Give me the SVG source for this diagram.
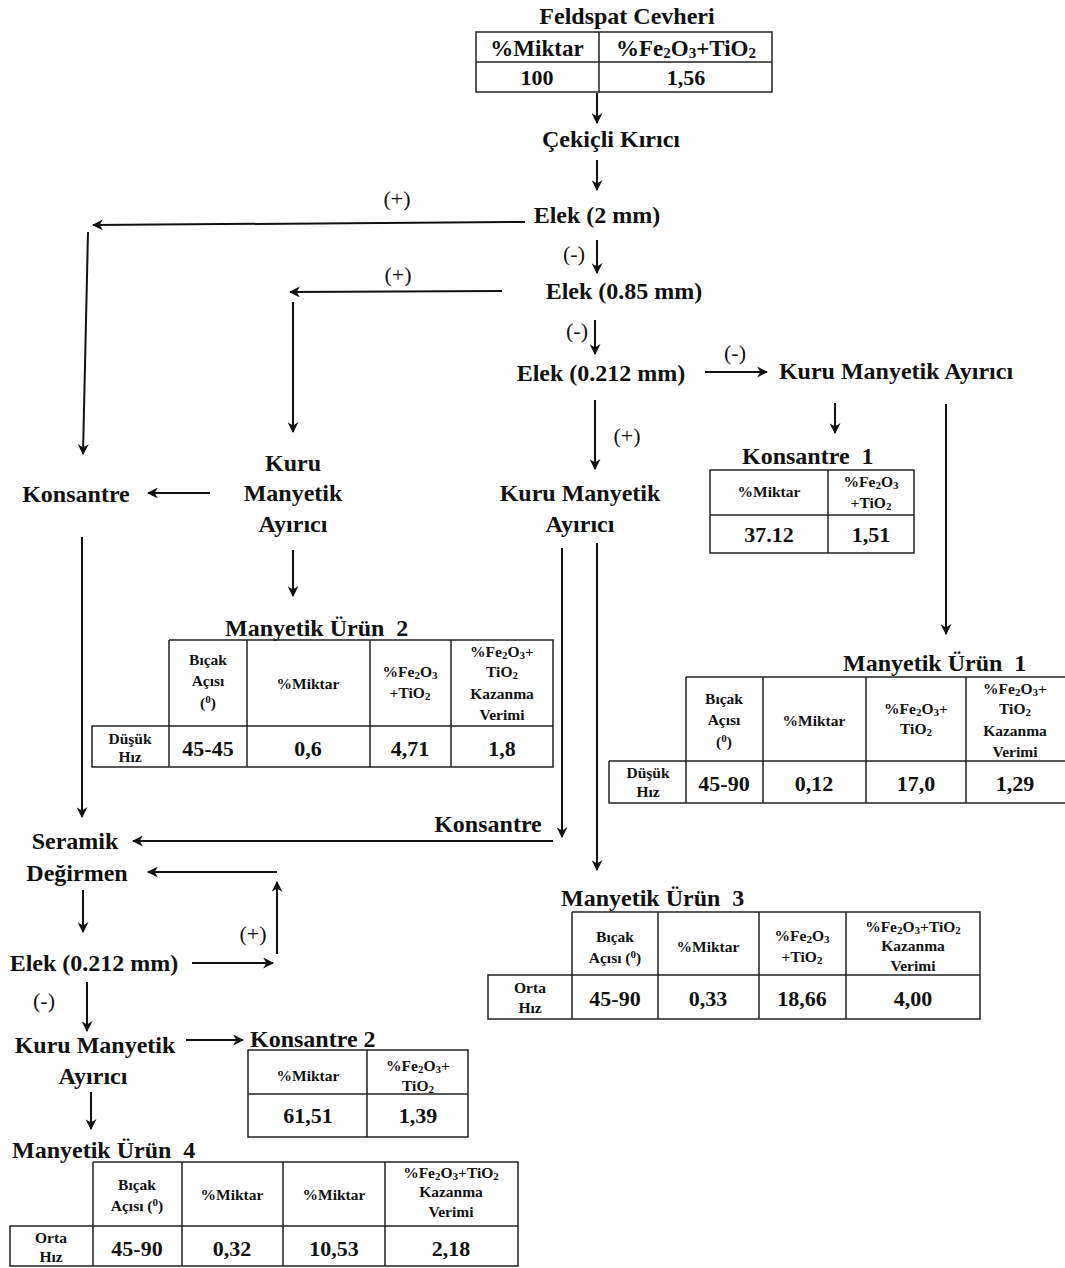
<svg xmlns="http://www.w3.org/2000/svg" width="1065" height="1268" viewBox="0 0 1065 1268">
<defs>
<marker id="ah" viewBox="0 0 10 10" refX="9" refY="5" markerWidth="5.5" markerHeight="5.5" orient="auto" markerUnits="strokeWidth">
<path d="M0,0 L10,5 L0,10 L3,5 Z" fill="#111"/>
</marker>
<style>
text{font-family:"Liberation Serif","Times New Roman",serif;font-weight:bold;fill:#111;text-anchor:middle}
.t{font-size:24px}
.ts{font-size:24px;text-anchor:start;white-space:pre}
.lbl{font-size:22px;font-weight:normal}
.h{font-size:15.5px}
.v{font-size:22px}
.hv{font-size:23px}
.cell{fill:none;stroke:#222;stroke-width:1.5}
.c line{fill:none;stroke:#111;stroke-width:2;marker-end:url(#ah)}
</style>
</defs>
<rect width="1065" height="1268" fill="#fff"/>

<g id="connectors" class="c">
<line x1="597" y1="93" x2="597" y2="123"/>
<line x1="597" y1="160" x2="597" y2="190"/>
<line x1="525" y1="222" x2="93" y2="225"/>
<line x1="88" y1="232" x2="83" y2="454"/>
<line x1="597" y1="240" x2="597" y2="273"/>
<line x1="502" y1="291" x2="290" y2="292"/>
<line x1="293" y1="302" x2="293" y2="432"/>
<line x1="595" y1="320" x2="595" y2="354"/>
<line x1="705" y1="372" x2="767" y2="372"/>
<line x1="835" y1="403" x2="835" y2="433"/>
<line x1="946" y1="404" x2="946" y2="634"/>
<line x1="595" y1="400" x2="595" y2="469"/>
<line x1="210" y1="493" x2="148" y2="493"/>
<line x1="293" y1="550" x2="293" y2="596"/>
<line x1="82" y1="537" x2="82" y2="817"/>
<line x1="562" y1="548" x2="562" y2="837"/>
<line x1="553" y1="841" x2="133" y2="841"/>
<line x1="597" y1="543" x2="597" y2="870"/>
<line x1="277" y1="872" x2="148" y2="872"/>
<line x1="277" y1="954" x2="277" y2="882"/>
<line x1="192" y1="963" x2="273" y2="963"/>
<line x1="83" y1="890" x2="83" y2="932"/>
<line x1="87" y1="982" x2="87" y2="1031"/>
<line x1="186" y1="1040" x2="243" y2="1040"/>
<line x1="91" y1="1092" x2="91" y2="1129"/>
</g>

<g id="labels">
<text class="lbl" x="397" y="206">(+)</text>
<text class="lbl" x="574" y="261">(-)</text>
<text class="lbl" x="398" y="282">(+)</text>
<text class="lbl" x="577" y="338">(-)</text>
<text class="lbl" x="735" y="360">(-)</text>
<text class="lbl" x="627" y="443">(+)</text>
<text class="lbl" x="253" y="941">(+)</text>
<text class="lbl" x="44" y="1008">(-)</text>
</g>

<g id="feldspat">
<text class="t" x="627" y="24">Feldspat Cevheri</text>
<rect class="cell" x="476" y="32" width="296" height="60"/>
<line class="cell" x1="476" y1="62" x2="772" y2="62"/>
<line class="cell" x1="599" y1="32" x2="599" y2="92"/>
<text class="hv" x="537" y="56">%Miktar</text>
<text class="hv" x="686" y="56">%Fe<tspan font-size="15" dy="2">2</tspan><tspan dy="-2">O</tspan><tspan font-size="15" dy="2">3</tspan><tspan dy="-2">+TiO</tspan><tspan font-size="15" dy="2">2</tspan></text>
<text class="v" x="537" y="85">100</text>
<text class="v" x="686" y="85">1,56</text>
</g>

<g id="cekicli"><text class="t" x="611" y="147">Çekiçli Kırıcı</text></g>
<g id="elek2"><text class="t" x="597" y="223">Elek (2 mm)</text></g>
<g id="elek085"><text class="t" x="624" y="299">Elek (0.85 mm)</text></g>
<g id="elek0212a"><text class="t" x="601" y="381">Elek (0.212 mm)</text></g>
<g id="kma-right"><text class="t" x="896" y="379">Kuru Manyetik Ayırıcı</text></g>
<g id="kma-mid"><text class="t" x="293" y="471">Kuru</text><text class="t" x="293" y="501">Manyetik</text><text class="t" x="293" y="532">Ayırıcı</text></g>
<g id="kma-center"><text class="t" x="580" y="501">Kuru Manyetik</text><text class="t" x="580" y="532">Ayırıcı</text></g>
<g id="konsantre-left"><text class="t" x="76" y="502">Konsantre</text></g>
<g id="konsantre-mid"><text class="t" x="488" y="832">Konsantre</text></g>
<g id="seramik"><text class="t" x="75" y="849">Seramik</text><text class="t" x="77" y="881">Değirmen</text></g>
<g id="elek0212b"><text class="t" x="94" y="971">Elek (0.212 mm)</text></g>
<g id="kma-bottom"><text class="t" x="95" y="1053">Kuru Manyetik</text><text class="t" x="93" y="1084">Ayırıcı</text></g>

<g id="konsantre1">
<text class="ts" x="742" y="464" xml:space="preserve">Konsantre  1</text>
<rect class="cell" x="710" y="470" width="204" height="83"/>
<line class="cell" x1="710" y1="515" x2="914" y2="515"/>
<line class="cell" x1="828" y1="470" x2="828" y2="553"/>
<text class="h" x="769" y="497">%Miktar</text>
<text class="h" x="871" y="487">%Fe<tspan font-size="11" dy="2">2</tspan><tspan dy="-2">O</tspan><tspan font-size="11" dy="2">3</tspan></text>
<text class="h" x="871" y="508">+TiO<tspan font-size="11" dy="2">2</tspan></text>
<text class="v" x="769" y="542">37.12</text>
<text class="v" x="871" y="542">1,51</text>
</g>

<g id="manyetik1">
<text class="ts" x="843" y="671" xml:space="preserve">Manyetik Ürün  1</text>
<path class="cell" d="M686,677 H1066 M686,677 V803 M609,761 H1066 M609,761 V803 H1066 M763,677 V803 M866,677 V803 M966,677 V803"/>
<text class="h" x="724" y="704">Bıçak</text>
<text class="h" x="724" y="725">Açısı</text>
<text class="h" x="724" y="747">(<tspan font-size="11" dy="-5">0</tspan><tspan dy="5">)</tspan></text>
<text class="h" x="814" y="726">%Miktar</text>
<text class="h" x="916" y="714">%Fe<tspan font-size="11" dy="2">2</tspan><tspan dy="-2">O</tspan><tspan font-size="11" dy="2">3</tspan><tspan dy="-2">+</tspan></text>
<text class="h" x="916" y="734">TiO<tspan font-size="11" dy="2">2</tspan></text>
<text class="h" x="1015" y="694">%Fe<tspan font-size="11" dy="2">2</tspan><tspan dy="-2">O</tspan><tspan font-size="11" dy="2">3</tspan><tspan dy="-2">+</tspan></text>
<text class="h" x="1015" y="714">TiO<tspan font-size="11" dy="2">2</tspan></text>
<text class="h" x="1015" y="736">Kazanma</text>
<text class="h" x="1015" y="757">Verimi</text>
<text class="h" x="648" y="778">Düşük</text>
<text class="h" x="648" y="797">Hız</text>
<text class="v" x="724" y="791">45-90</text>
<text class="v" x="814" y="791">0,12</text>
<text class="v" x="916" y="791">17,0</text>
<text class="v" x="1015" y="791">1,29</text>
</g>

<g id="manyetik2">
<text class="ts" x="225" y="636" xml:space="preserve">Manyetik Ürün  2</text>
<path class="cell" d="M169,640 H553 V767 H92 V726 H553 M169,640 V767 M247,640 V767 M370,640 V767 M451,640 V767"/>
<text class="h" x="208" y="665">Bıçak</text>
<text class="h" x="208" y="686">Açısı</text>
<text class="h" x="208" y="708">(<tspan font-size="11" dy="-5">0</tspan><tspan dy="5">)</tspan></text>
<text class="h" x="308" y="689">%Miktar</text>
<text class="h" x="410" y="677">%Fe<tspan font-size="11" dy="2">2</tspan><tspan dy="-2">O</tspan><tspan font-size="11" dy="2">3</tspan></text>
<text class="h" x="410" y="698">+TiO<tspan font-size="11" dy="2">2</tspan></text>
<text class="h" x="502" y="657">%Fe<tspan font-size="11" dy="2">2</tspan><tspan dy="-2">O</tspan><tspan font-size="11" dy="2">3</tspan><tspan dy="-2">+</tspan></text>
<text class="h" x="502" y="677">TiO<tspan font-size="11" dy="2">2</tspan></text>
<text class="h" x="502" y="699">Kazanma</text>
<text class="h" x="502" y="720">Verimi</text>
<text class="h" x="130" y="744">Düşük</text>
<text class="h" x="130" y="762">Hız</text>
<text class="v" x="208" y="756">45-45</text>
<text class="v" x="308" y="756">0,6</text>
<text class="v" x="410" y="756">4,71</text>
<text class="v" x="502" y="756">1,8</text>
</g>

<g id="manyetik3">
<text class="ts" x="561" y="906" xml:space="preserve">Manyetik Ürün  3</text>
<path class="cell" d="M572,912 H980 V1019 H488 V975 H980 M572,912 V1019 M658,912 V1019 M759,912 V1019 M846,912 V1019"/>
<text class="h" x="615" y="942">Bıçak</text>
<text class="h" x="615" y="963">Açısı (<tspan font-size="11" dy="-5">0</tspan><tspan dy="5">)</tspan></text>
<text class="h" x="708" y="952">%Miktar</text>
<text class="h" x="802" y="941">%Fe<tspan font-size="11" dy="2">2</tspan><tspan dy="-2">O</tspan><tspan font-size="11" dy="2">3</tspan></text>
<text class="h" x="802" y="962">+TiO<tspan font-size="11" dy="2">2</tspan></text>
<text class="h" x="913" y="932">%Fe<tspan font-size="11" dy="2">2</tspan><tspan dy="-2">O</tspan><tspan font-size="11" dy="2">3</tspan><tspan dy="-2">+TiO</tspan><tspan font-size="11" dy="2">2</tspan></text>
<text class="h" x="913" y="951">Kazanma</text>
<text class="h" x="913" y="971">Verimi</text>
<text class="h" x="530" y="993">Orta</text>
<text class="h" x="530" y="1013">Hız</text>
<text class="v" x="615" y="1006">45-90</text>
<text class="v" x="708" y="1006">0,33</text>
<text class="v" x="802" y="1006">18,66</text>
<text class="v" x="913" y="1006">4,00</text>
</g>

<g id="konsantre2">
<text class="ts" x="250" y="1047">Konsantre 2</text>
<rect class="cell" x="248" y="1050" width="220" height="87"/>
<line class="cell" x1="248" y1="1094" x2="468" y2="1094"/>
<line class="cell" x1="367" y1="1050" x2="367" y2="1137"/>
<text class="h" x="308" y="1081">%Miktar</text>
<text class="h" x="418" y="1071">%Fe<tspan font-size="11" dy="2">2</tspan><tspan dy="-2">O</tspan><tspan font-size="11" dy="2">3</tspan><tspan dy="-2">+</tspan></text>
<text class="h" x="418" y="1091">TiO<tspan font-size="11" dy="2">2</tspan></text>
<text class="v" x="308" y="1123">61,51</text>
<text class="v" x="418" y="1123">1,39</text>
</g>

<g id="manyetik4">
<text class="ts" x="12" y="1158" xml:space="preserve">Manyetik Ürün  4</text>
<path class="cell" d="M93,1162 H518 V1266 H10 V1226 H518 M93,1162 V1266 M182,1162 V1266 M283,1162 V1266 M385,1162 V1266"/>
<text class="h" x="137" y="1190">Bıçak</text>
<text class="h" x="137" y="1211">Açısı (<tspan font-size="11" dy="-5">0</tspan><tspan dy="5">)</tspan></text>
<text class="h" x="232" y="1200">%Miktar</text>
<text class="h" x="334" y="1200">%Miktar</text>
<text class="h" x="451" y="1178">%Fe<tspan font-size="11" dy="2">2</tspan><tspan dy="-2">O</tspan><tspan font-size="11" dy="2">3</tspan><tspan dy="-2">+TiO</tspan><tspan font-size="11" dy="2">2</tspan></text>
<text class="h" x="451" y="1197">Kazanma</text>
<text class="h" x="451" y="1217">Verimi</text>
<text class="h" x="51" y="1243">Orta</text>
<text class="h" x="51" y="1262">Hız</text>
<text class="v" x="137" y="1256">45-90</text>
<text class="v" x="232" y="1256">0,32</text>
<text class="v" x="334" y="1256">10,53</text>
<text class="v" x="451" y="1256">2,18</text>
</g>
</svg>
